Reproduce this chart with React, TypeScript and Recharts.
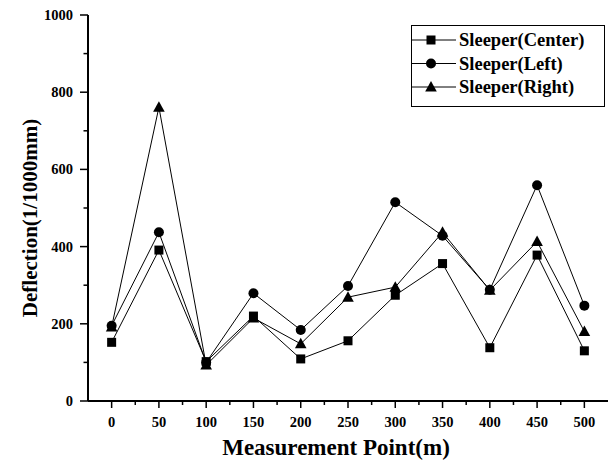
import React from 'react';
import { LineChart, Line, XAxis, YAxis, Legend } from 'recharts';

const positions = [0, 50, 100, 150, 200, 250, 300, 350, 400, 450, 500];
const centerValues = [152, 391, 102, 220, 109, 156, 274, 356, 138, 378, 130];
const leftValues = [195, 437, 100, 279, 184, 298, 515, 428, 288, 559, 247];
const rightValues = [192, 761, 93, 215, 148, 269, 295, 437, 287, 413, 180];
const seriesNames = ['Sleeper(Center)', 'Sleeper(Left)', 'Sleeper(Right)'];
const xTicks = [0, 25, 50, 75, 100, 125, 150, 175, 200, 225, 250, 275, 300, 325, 350, 375, 400, 425, 450, 475, 500];
const yTicks = [0, 100, 200, 300, 400, 500, 600, 700, 800, 900, 1000];

const data = positions.map((p, i) => ({
  x: p,
  center: centerValues[i],
  left: leftValues[i],
  right: rightValues[i],
}));

const FONT = '"Liberation Serif", "Times New Roman", serif';
const textStyle = { fontFamily: FONT, fontWeight: 'bold' as const, fill: '#000' };

const Marker = ({ shape, cx, cy }: { shape: string; cx: number; cy: number }) => {
  if (shape === 'square') return <rect x={cx - 4.5} y={cy - 4.5} width={9} height={9} fill="#000" />;
  if (shape === 'circle') return <circle cx={cx} cy={cy} r={5} fill="#000" />;
  return <polygon points={`${cx},${cy - 6} ${cx + 5.8},${cy + 4.5} ${cx - 5.8},${cy + 4.5}`} fill="#000" />;
};

const makeDot = (shape: string) => (props: any) => {
  const { cx, cy, index } = props;
  if (cx == null || cy == null) return <g key={index} />;
  return <Marker key={index} shape={shape} cx={cx} cy={cy} />;
};

const XTick = (props: any) => {
  const { x, y, payload } = props;
  const v = payload.value;
  const major = v % 50 === 0;
  return (
    <g>
      <line x1={x} x2={x} y1={y} y2={y + (major ? 7 : 4)} stroke="#000" strokeWidth={1.5} />
      {major && (
        <text x={x} y={y + 25.5} textAnchor="middle" style={{ ...textStyle, fontSize: 14.5 }}>
          {v}
        </text>
      )}
    </g>
  );
};

const YTick = (props: any) => {
  const { x, y, payload } = props;
  const v = payload.value;
  const major = v % 200 === 0;
  return (
    <g>
      <line x1={x - (major ? 8 : 4.5)} x2={x} y1={y} y2={y} stroke="#000" strokeWidth={1.5} />
      {major && (
        <text x={x - 15} y={y + 5} textAnchor="end" style={{ ...textStyle, fontSize: 14.5 }}>
          {v}
        </text>
      )}
    </g>
  );
};

const shapes = ['square', 'circle', 'triangle'];

const LegendBox = () => (
  <div style={{ width: 194, height: 82, border: '1.5px solid #000', boxSizing: 'border-box', background: '#fff' }}>
    <svg width={191} height={79} style={{ display: 'block' }}>
      {seriesNames.map((name, i) => {
        const cy = 14 + i * 23.5;
        return (
          <g key={name}>
            <line x1={0} x2={44} y1={cy} y2={cy} stroke="#000" strokeWidth={1} />
            <Marker shape={shapes[i]} cx={19} cy={cy} />
            <text x={47} y={cy + 6} style={{ ...textStyle, fontSize: 18.5 }}>
              {name}
            </text>
          </g>
        );
      })}
    </svg>
  </div>
);

export default function App() {
  return (
    <div style={{ position: 'absolute', left: 0, top: 0, background: '#fff' }}>
      <LineChart
        width={610}
        height={465}
        data={data}
        margin={{ top: 15, right: 2, bottom: 0, left: 0 }}
      >
        <XAxis
          dataKey="x"
          type="number"
          domain={[-25, 525]}
          ticks={xTicks}
          interval={0}
          height={64}
          tickSize={0}
          tickMargin={0}
          tickLine={false}
          tick={<XTick />}
          axisLine={{ stroke: '#000', strokeWidth: 2 }}
          label={{
            value: 'Measurement Point(m)',
            position: 'insideBottom',
            offset: 10,
            dx: -12,
            style: { ...textStyle, fontSize: 23 },
          }}
        />
        <XAxis
          xAxisId="top"
          orientation="top"
          type="number"
          dataKey="x"
          domain={[-25, 525]}
          height={0}
          tick={false}
          tickLine={false}
          axisLine={{ stroke: '#000', strokeWidth: 1.5 }}
        />
        <YAxis
          type="number"
          domain={[0, 1000]}
          ticks={yTicks}
          interval={0}
          width={88}
          tickSize={0}
          tickMargin={0}
          tickLine={false}
          tick={<YTick />}
          axisLine={{ stroke: '#000', strokeWidth: 2 }}
          label={{
            value: 'Deflection(1/1000mm)',
            angle: -90,
            position: 'insideLeft',
            offset: 0,
            dx: 30,
            dy: 10,
            style: { ...textStyle, fontSize: 21, textAnchor: 'middle' },
          }}
        />
        <YAxis
          yAxisId="right"
          orientation="right"
          type="number"
          domain={[0, 1000]}
          width={0}
          tick={false}
          tickLine={false}
          axisLine={{ stroke: '#000', strokeWidth: 1.5 }}
        />
        <Legend
          layout="vertical"
          align="center"
          verticalAlign="middle"
          wrapperStyle={{ position: 'absolute', left: 411, top: 25, width: 194, height: 82 }}
          content={() => <LegendBox />}
        />
        <Line
          dataKey="center"
          name={seriesNames[0]}
          stroke="#000"
          strokeWidth={1}
          dot={makeDot('square')}
          isAnimationActive={false}
        />
        <Line
          dataKey="left"
          name={seriesNames[1]}
          stroke="#000"
          strokeWidth={1}
          dot={makeDot('circle')}
          isAnimationActive={false}
        />
        <Line
          dataKey="right"
          name={seriesNames[2]}
          stroke="#000"
          strokeWidth={1}
          dot={makeDot('triangle')}
          isAnimationActive={false}
        />
      </LineChart>
    </div>
  );
}
